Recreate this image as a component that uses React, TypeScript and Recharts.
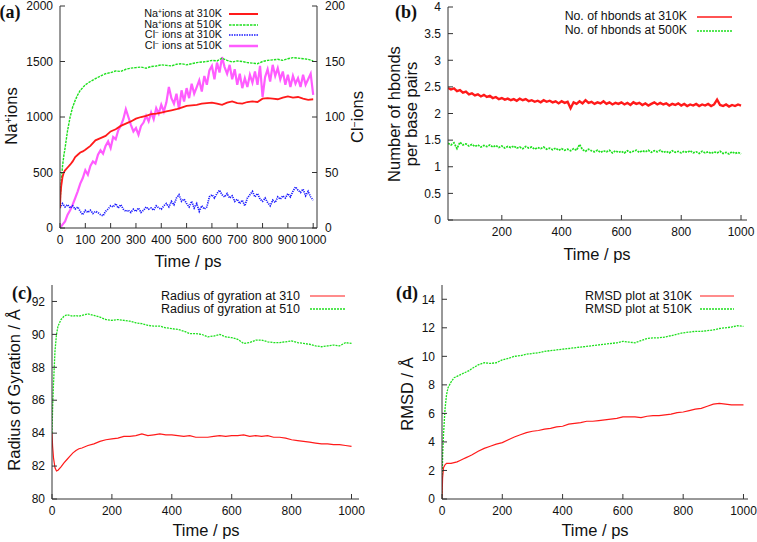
import React from "react";
import { Line, LineChart, XAxis, YAxis } from "recharts";

const FONT = '"Liberation Sans", Arial, Helvetica, sans-serif';
const SERIF = '"Liberation Serif", "Times New Roman", serif';

// time grids (ps)
const T10 = [
  0, 10, 20, 30, 40, 50, 60, 70, 80, 90,
  100, 110, 120, 130, 140, 150, 160, 170, 180, 190,
  200, 210, 220, 230, 240, 250, 260, 270, 280, 290,
  300, 310, 320, 330, 340, 350, 360, 370, 380, 390,
  400, 410, 420, 430, 440, 450, 460, 470, 480, 490,
  500, 510, 520, 530, 540, 550, 560, 570, 580, 590,
  600, 610, 620, 630, 640, 650, 660, 670, 680, 690,
  700, 710, 720, 730, 740, 750, 760, 770, 780, 790,
  800, 810, 820, 830, 840, 850, 860, 870, 880, 890,
  900, 910, 920, 930, 940, 950, 960, 970, 980, 990,
  1000,
];
const TS = [
  0, 2, 5, 10, 15, 20, 30, 40, 50, 60, 70, 80, 90,
  100, 120, 140, 160, 180, 200, 220, 240, 260, 280,
  300, 320, 340, 360, 380, 400, 420, 440, 460, 480,
  500, 520, 540, 560, 580, 600, 620, 640, 660, 680,
  700, 720, 740, 760, 780, 800, 820, 840, 860, 880,
  900, 920, 940, 960, 980, 1000,
];
const T_HB = T10.slice(2);

// (a) ions
const NA_310 = [
  180, 300, 380, 460, 500, 520, 545, 570, 600, 640, 660, 680, 690,
  705, 740, 790, 810, 830, 870, 890, 920, 940, 960,
  985, 1000, 1010, 1025, 1030, 1040, 1050, 1060, 1070, 1085,
  1100, 1105, 1110, 1120, 1125, 1130, 1120, 1110, 1130, 1140,
  1125, 1120, 1135, 1140, 1135, 1165, 1170, 1165, 1160, 1175,
  1185, 1175, 1180, 1165, 1155, 1160,
];
const NA_510 = [
  200, 300, 420, 560, 650, 720, 880, 1000, 1090, 1150, 1200, 1240, 1265,
  1290, 1320, 1345, 1370, 1390, 1400, 1415, 1410, 1430, 1440,
  1445, 1450, 1440, 1455, 1460, 1470, 1465, 1460, 1475, 1480,
  1470, 1480, 1490, 1495, 1500, 1510, 1505, 1530, 1510, 1495,
  1505, 1500, 1490, 1485, 1480, 1500, 1510, 1515, 1520, 1510,
  1525, 1535, 1530, 1525, 1520, 1505,
];
const CL_310 = [
  18, 22, 19, 21, 18, 20, 17, 19, 15, 12,
  16, 14, 16, 13, 15, 14, 12, 11, 15, 17,
  20, 19, 22, 18, 21, 17, 15, 16, 14, 17,
  15, 18, 14, 16, 19, 17, 18, 16, 20, 18,
  17, 20, 22, 19, 24, 21, 27, 30, 24, 26,
  22, 19, 24, 18, 22, 15, 20, 17, 19, 28,
  30, 27, 31, 34, 30, 28, 31, 27, 29, 24,
  26, 22, 25, 20, 27, 30, 33, 28, 31, 26,
  24, 27, 23, 20, 25, 23, 28, 26, 29, 27,
  31, 28, 33, 37, 34, 32, 35, 29, 33, 28,
  25,
];
const CL_510 = [
  0, 3, 6, 12, 16, 21, 27, 33, 40, 45,
  52, 48, 56, 60, 58, 66, 70, 67, 74, 78,
  72, 82, 80, 88, 92, 98, 107, 100, 93, 87,
  90, 84, 92, 95, 101, 96, 104, 98, 108, 103,
  111, 105, 113, 127, 117, 112, 121, 107, 124, 114,
  126, 117, 130, 121, 127, 133, 123, 137, 129, 142,
  146, 134, 149, 140, 154, 145, 139, 147, 134, 143,
  129, 139, 126, 135, 127, 138, 131, 141, 129, 146,
  118, 136, 143, 132, 147, 137, 144, 134, 141, 129,
  138, 127, 137, 130, 135, 127, 138, 129, 134, 139,
  120,
];

// (b) hbonds per base pair
const HB_310 = [
  2.48, 2.45, 2.47, 2.42, 2.44, 2.39, 2.41, 2.36, 2.38, 2.34,
  2.36, 2.32, 2.35, 2.31, 2.33, 2.29, 2.31, 2.27, 2.29, 2.26,
  2.28, 2.25, 2.27, 2.24, 2.28, 2.25, 2.27, 2.23, 2.25, 2.22,
  2.24, 2.21, 2.25, 2.22, 2.24, 2.21, 2.23, 2.19, 2.23, 2.2,
  2.22, 2.1, 2.21, 2.18, 2.23, 2.19, 2.25, 2.2, 2.22, 2.18,
  2.21, 2.19, 2.23, 2.18, 2.21, 2.17, 2.2, 2.18, 2.21, 2.17,
  2.2, 2.16, 2.21, 2.18, 2.2, 2.16, 2.19, 2.15, 2.18, 2.21,
  2.17, 2.2, 2.17, 2.19, 2.15, 2.18, 2.16, 2.19, 2.15, 2.18,
  2.14, 2.17, 2.15, 2.18, 2.14, 2.17, 2.15, 2.18, 2.14, 2.17,
  2.26, 2.16, 2.14, 2.17, 2.13, 2.16, 2.14, 2.17, 2.15,
];
const HB_500 = [
  1.44, 1.41, 1.45, 1.34, 1.46, 1.41, 1.43, 1.39, 1.42, 1.38,
  1.41, 1.37, 1.4, 1.38, 1.41, 1.37, 1.4, 1.36, 1.39, 1.35,
  1.38, 1.36, 1.39, 1.35, 1.37, 1.34, 1.38, 1.35, 1.37, 1.33,
  1.36, 1.34, 1.37, 1.33, 1.35, 1.32, 1.35, 1.31, 1.34, 1.31,
  1.33, 1.3, 1.34, 1.31, 1.42, 1.32, 1.29, 1.33, 1.3, 1.28,
  1.31, 1.27, 1.3, 1.28, 1.31, 1.26, 1.3, 1.27, 1.29, 1.26,
  1.3, 1.27, 1.29, 1.31, 1.27, 1.3, 1.28, 1.31, 1.27, 1.3,
  1.28, 1.31, 1.27, 1.29, 1.26, 1.3, 1.27, 1.29, 1.26, 1.29,
  1.27, 1.3, 1.26, 1.28, 1.25, 1.29, 1.26, 1.28, 1.25, 1.28,
  1.26, 1.29, 1.25, 1.27, 1.24, 1.28, 1.25, 1.27, 1.24,
];

// (c) radius of gyration
const RG_310 = [
  84.0, 83.2, 82.5, 81.9, 81.7, 81.75, 81.95, 82.2, 82.4, 82.6, 82.8, 82.95, 83.05,
  83.1, 83.25, 83.35, 83.5, 83.6, 83.65, 83.7, 83.8, 83.8, 83.85,
  83.95, 83.85, 83.9, 83.95, 83.9, 83.9, 83.85, 83.8, 83.85, 83.75,
  83.75, 83.75, 83.8, 83.85, 83.8, 83.85, 83.85, 83.9, 83.8, 83.85,
  83.8, 83.85, 83.75, 83.75, 83.7, 83.6, 83.55, 83.5, 83.45, 83.4,
  83.35, 83.35, 83.3, 83.3, 83.25, 83.2,
];
const RG_510 = [
  84.0, 85.5, 87.0, 89.0, 90.0, 90.5, 90.9, 91.1, 91.2, 91.15, 91.1, 91.15, 91.1,
  91.15, 91.25, 91.15, 91.05, 90.9, 90.85, 90.9, 90.85, 90.8, 90.7,
  90.65, 90.55, 90.5, 90.5, 90.4, 90.35, 90.3, 90.2, 90.05, 90.05,
  90.0, 89.85, 89.9, 90.0, 89.85, 89.8, 89.7, 89.45, 89.5, 89.65,
  89.65, 89.55, 89.5, 89.5, 89.55, 89.6, 89.5, 89.45, 89.4, 89.3,
  89.25, 89.3, 89.35, 89.3, 89.5, 89.45,
];

// (d) RMSD
const RMSD_310 = [
  0, 1.5, 2.2, 2.4, 2.5, 2.5, 2.5, 2.55, 2.6, 2.7, 2.8, 2.9, 3.0,
  3.1, 3.35, 3.55, 3.7, 3.85, 3.95, 4.15, 4.35, 4.5, 4.65,
  4.75, 4.8, 4.9, 4.95, 5.05, 5.1, 5.25, 5.3, 5.35, 5.45,
  5.45, 5.5, 5.55, 5.6, 5.65, 5.75, 5.75, 5.75, 5.7, 5.8,
  5.85, 5.85, 5.9, 5.95, 6.05, 6.1, 6.2, 6.3, 6.35, 6.5,
  6.65, 6.7, 6.65, 6.6, 6.6, 6.6,
];
const RMSD_510 = [
  0, 3.0, 4.5, 6.3, 7.3, 7.8, 8.2, 8.5, 8.6, 8.7, 8.8, 8.9, 9.0,
  9.15, 9.4, 9.55, 9.5, 9.55, 9.75, 9.85, 10.0, 10.05, 10.15,
  10.2, 10.25, 10.35, 10.4, 10.45, 10.5, 10.55, 10.6, 10.65, 10.7,
  10.75, 10.8, 10.85, 10.9, 10.95, 11.05, 11.0, 10.95, 11.1, 11.25,
  11.3, 11.3, 11.35, 11.45, 11.55, 11.65, 11.7, 11.75, 11.75, 11.8,
  11.85, 11.95, 12.0, 12.05, 12.15, 12.1,
];

// tick labels
const A_XTICKS = [0, 100, 200, 300, 400, 500, 600, 700, 800, 900, 1000];
const A_YTICKS = [0, 500, 1000, 1500, 2000];
const A_RTICKS = [0, 50, 100, 150, 200];
const B_XTICKS = [200, 400, 600, 800, 1000];
const B_YTICKS = [0, 0.5, 1, 1.5, 2, 2.5, 3, 3.5, 4];
const CD_XTICKS = [0, 200, 400, 600, 800, 1000];
const C_YTICKS = [80, 82, 84, 86, 88, 90, 92];
const D_YTICKS = [0, 2, 4, 6, 8, 10, 12, 14];

const pts = (xs: number[], ys: number[]) => xs.map((x, i) => ({ x, y: ys[i] }));

const RED = "#ff1a1a";
const GREEN = "#1ee01e";
const BLUE = "#1a1aff";
const PINK = "#ff5cff";

const AX = { stroke: "#333", strokeWidth: 1 };
const TICK = { fill: "#111", fontSize: 12, fontFamily: FONT };

function Txt({ x, y, rot, size = 16.5, children, font = FONT, bold = false }: any) {
  return (
    <div
      style={{
        position: "absolute",
        left: x,
        top: y,
        transform: `translate(-50%, -50%)${rot ? " rotate(-90deg)" : ""}`,
        fontSize: size,
        fontFamily: font,
        fontWeight: bold ? 700 : 400,
        whiteSpace: "nowrap",
        lineHeight: 1.05,
        textAlign: "center",
        color: "#111",
      }}
    >
      {children}
    </div>
  );
}

function Key({ right, x1, x2, y0, gap, size, rows }: any) {
  return (
    <>
      {rows.map((r: any, i: number) => {
        const y = y0 + i * gap;
        return (
          <React.Fragment key={i}>
            <div
              style={{
                position: "absolute",
                left: right - 220,
                width: 220,
                top: y,
                height: gap - 1,
                lineHeight: `${gap - 1}px`,
                transform: "translateY(-50%)",
                textAlign: "right",
                fontSize: size,
                fontFamily: FONT,
                whiteSpace: "nowrap",
                overflow: "visible",
                color: "#111",
              }}
            >
              {r.label}
            </div>
            <svg style={{ position: "absolute", left: x1, top: y - 4 }} width={x2 - x1} height={8}>
              <line x1={0} y1={4} x2={x2 - x1} y2={4} stroke={r.color} strokeWidth={r.w} strokeDasharray={r.dash} />
            </svg>
          </React.Fragment>
        );
      })}
    </>
  );
}

const sup = (s: string) => (
  <span style={{ fontSize: "0.62em", verticalAlign: "0.55em", lineHeight: 0 }}>{s}</span>
);

function PanelA() {
  return (
    <>
      <div style={{ position: "absolute", left: 0, top: 0 }}>
        <LineChart width={380} height={280} margin={{ top: 6, right: 0, bottom: 0, left: 0 }}>
          <XAxis type="number" dataKey="x" domain={[0, 1015]} ticks={A_XTICKS} interval={0} allowDataOverflow
            height={52} tickSize={-5} tickMargin={12} axisLine={AX} tickLine={AX} tick={TICK} />
          <XAxis xAxisId="top" orientation="top" type="number" dataKey="x" domain={[0, 1015]} ticks={A_XTICKS} interval={0}
            allowDataOverflow height={0} tickSize={-5} axisLine={AX} tickLine={AX} tick={false} />
          <YAxis type="number" domain={[0, 2000]} ticks={A_YTICKS} interval={0} allowDataOverflow
            width={60} tickSize={-5} tickMargin={12} axisLine={AX} tickLine={AX} tick={TICK} />
          <YAxis yAxisId="right" orientation="right" type="number" domain={[0, 200]} ticks={A_RTICKS} interval={0}
            allowDataOverflow width={63} tickSize={-5} tickMargin={13} axisLine={AX} tickLine={AX} tick={TICK} />
          <Line data={pts(T10, CL_510)} dataKey="y" yAxisId="right" stroke={PINK} strokeWidth={2.2} dot={false} isAnimationActive={false} />
          <Line data={pts(T10, CL_310)} dataKey="y" yAxisId="right" stroke={BLUE} strokeWidth={1.7} strokeDasharray="1.2 1" dot={false} isAnimationActive={false} />
          <Line data={pts(TS, NA_510)} dataKey="y" stroke={GREEN} strokeWidth={1.4} strokeDasharray="2.5 1" dot={false} isAnimationActive={false} />
          <Line data={pts(TS, NA_310)} dataKey="y" stroke={RED} strokeWidth={1.8} dot={false} isAnimationActive={false} />
        </LineChart>
      </div>
      <Txt x={10} y={12} size={18} font={SERIF} bold>(a)</Txt>
      <Txt x={12} y={116} rot>Na{sup("+")}ions</Txt>
      <Txt x={358} y={117} rot>Cl{sup("\u2212")}ions</Txt>
      <Txt x={188} y={262}>Time / ps</Txt>
      <Key right={222} x1={229} x2={258} y0={14} gap={10.6} size={10.8} rows={[
        { label: <>Na{sup("+")}ions at 310K</>, color: RED, w: 2 },
        { label: <>Na{sup("+")}ions at 510K</>, color: GREEN, w: 1.3, dash: "2.5 1" },
        { label: <>Cl{sup("\u2212")} ions at 310K</>, color: BLUE, w: 1.3, dash: "1.5 1" },
        { label: <>Cl{sup("\u2212")} ions at 510K</>, color: PINK, w: 2.5 },
      ]} />
    </>
  );
}

function PanelB() {
  return (
    <>
      <div style={{ position: "absolute", left: 380, top: 0 }}>
        <LineChart width={377} height={280} margin={{ top: 7, right: 10, bottom: 0, left: 0 }}>
          <XAxis type="number" dataKey="x" domain={[20, 1020]} ticks={B_XTICKS} interval={0} allowDataOverflow
            height={60} tickSize={-5} tickMargin={12} axisLine={AX} tickLine={AX} tick={TICK} />
          <XAxis xAxisId="top" orientation="top" type="number" dataKey="x" domain={[20, 1020]} ticks={B_XTICKS} interval={0}
            allowDataOverflow height={0} tickSize={-5} axisLine={AX} tickLine={AX} tick={false} />
          <YAxis type="number" domain={[0, 4]} ticks={B_YTICKS} interval={0} allowDataOverflow
            width={68} tickSize={-5} tickMargin={12} axisLine={AX} tickLine={AX} tick={TICK} />
          <YAxis yAxisId="right" orientation="right" type="number" domain={[0, 4]} ticks={B_YTICKS} interval={0}
            allowDataOverflow width={0} tickSize={-5} axisLine={AX} tickLine={AX} tick={false} />
          <Line data={pts(T_HB, HB_500)} dataKey="y" stroke={GREEN} strokeWidth={1.7} strokeDasharray="2 1" dot={false} isAnimationActive={false} />
          <Line data={pts(T_HB, HB_310)} dataKey="y" stroke={RED} strokeWidth={2.4} dot={false} isAnimationActive={false} />
        </LineChart>
      </div>
      <Txt x={406} y={12} size={18} font={SERIF} bold>(b)</Txt>
      <Txt x={403} y={114} rot>Number of hbonds<br />per base pairs</Txt>
      <Txt x={597} y={255}>Time / ps</Txt>
      <Key right={687} x1={697} x2={732} y0={16.7} gap={14.3} size={12.3} rows={[
        { label: "No. of hbonds at 310K", color: RED, w: 1.6 },
        { label: "No. of hbonds at 500K", color: GREEN, w: 1.3, dash: "2 1" },
      ]} />
    </>
  );
}

function PanelC() {
  return (
    <>
      <div style={{ position: "absolute", left: 0, top: 280 }}>
        <LineChart width={380} height={262} margin={{ top: 5, right: 21, bottom: 0, left: 0 }}>
          <XAxis type="number" dataKey="x" domain={[0, 1025]} ticks={CD_XTICKS} interval={0} allowDataOverflow
            height={43} tickSize={-5} tickMargin={12} axisLine={AX} tickLine={AX} tick={TICK} />
          <XAxis xAxisId="top" orientation="top" type="number" dataKey="x" domain={[0, 1025]} ticks={CD_XTICKS} interval={0}
            allowDataOverflow height={0} tickSize={-5} axisLine={AX} tickLine={AX} tick={false} />
          <YAxis type="number" domain={[80, 93]} ticks={C_YTICKS} interval={0} allowDataOverflow
            width={52} tickSize={-5} tickMargin={12} axisLine={AX} tickLine={AX} tick={TICK} />
          <YAxis yAxisId="right" orientation="right" type="number" domain={[80, 93]} ticks={C_YTICKS} interval={0}
            allowDataOverflow width={0} tickSize={-5} axisLine={AX} tickLine={AX} tick={false} />
          <Line data={pts(TS, RG_510)} dataKey="y" stroke={GREEN} strokeWidth={1.3} strokeDasharray="2 1" dot={false} isAnimationActive={false} />
          <Line data={pts(TS, RG_310)} dataKey="y" stroke={RED} strokeWidth={1.2} dot={false} isAnimationActive={false} />
        </LineChart>
      </div>
      <Txt x={22} y={293} size={18} font={SERIF} bold>(c)</Txt>
      <Txt x={15} y={390} rot>Radius of Gyration / Å</Txt>
      <Txt x={206} y={531}>Time / ps</Txt>
      <Key right={300} x1={310} x2={345} y0={295.7} gap={13.6} size={12.5} rows={[
        { label: "Radius of gyration at 310", color: RED, w: 1.2 },
        { label: "Radius of gyration at 510", color: GREEN, w: 1.3, dash: "2 1" },
      ]} />
    </>
  );
}

function PanelD() {
  return (
    <>
      <div style={{ position: "absolute", left: 380, top: 280 }}>
        <LineChart width={377} height={262} margin={{ top: 5, right: 9, bottom: 0, left: 0 }}>
          <XAxis type="number" dataKey="x" domain={[0, 1015]} ticks={CD_XTICKS} interval={0} allowDataOverflow
            height={43} tickSize={-5} tickMargin={12} axisLine={AX} tickLine={AX} tick={TICK} />
          <XAxis xAxisId="top" orientation="top" type="number" dataKey="x" domain={[0, 1015]} ticks={CD_XTICKS} interval={0}
            allowDataOverflow height={0} tickSize={-5} axisLine={AX} tickLine={AX} tick={false} />
          <YAxis type="number" domain={[0, 15]} ticks={D_YTICKS} interval={0} allowDataOverflow
            width={62} tickSize={-5} tickMargin={12} axisLine={AX} tickLine={AX} tick={TICK} />
          <YAxis yAxisId="right" orientation="right" type="number" domain={[0, 15]} ticks={D_YTICKS} interval={0}
            allowDataOverflow width={0} tickSize={-5} axisLine={AX} tickLine={AX} tick={false} />
          <Line data={pts(TS, RMSD_510)} dataKey="y" stroke={GREEN} strokeWidth={1.3} strokeDasharray="2 1" dot={false} isAnimationActive={false} />
          <Line data={pts(TS, RMSD_310)} dataKey="y" stroke={RED} strokeWidth={1.2} dot={false} isAnimationActive={false} />
        </LineChart>
      </div>
      <Txt x={407} y={293} size={18} font={SERIF} bold>(d)</Txt>
      <Txt x={408} y={394} rot>RMSD / Å</Txt>
      <Txt x={595} y={531}>Time / ps</Txt>
      <Key right={692} x1={700} x2={734} y0={295.7} gap={13.6} size={12.5} rows={[
        { label: "RMSD plot at 310K", color: RED, w: 1.2 },
        { label: "RMSD plot at 510K", color: GREEN, w: 1.3, dash: "2 1" },
      ]} />
    </>
  );
}

export default function App() {
  return (
    <div style={{ position: "absolute", left: 0, top: 0, width: 757, height: 542, background: "#fff", fontFamily: FONT, overflow: "hidden" }}>
      <PanelA />
      <PanelB />
      <PanelC />
      <PanelD />
    </div>
  );
}
